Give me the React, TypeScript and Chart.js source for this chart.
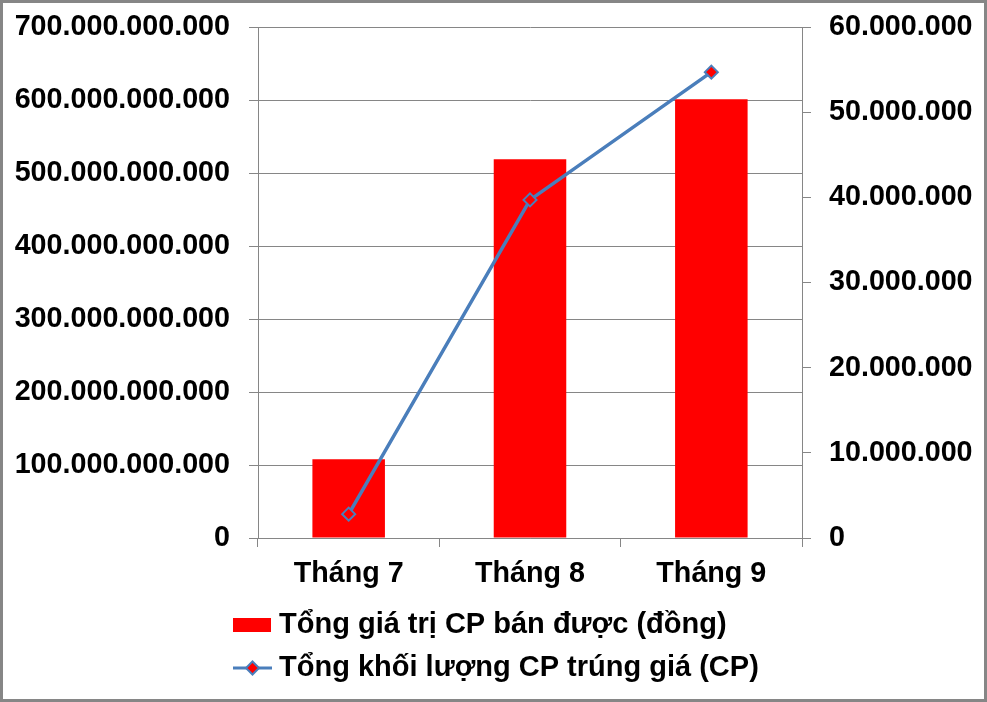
import React, { useEffect, useRef } from "react";
import { Chart, registerables } from "chart.js";

Chart.register(...registerables);

const categories = ["Tháng 7", "Tháng 8", "Tháng 9"];
const valueLabel = "Tổng giá trị CP bán được (đồng)";
const volumeLabel = "Tổng khối lượng CP trúng giá (CP)";
const valueSeries = [108e9, 519e9, 601e9];
const volumeSeries = [2.8e6, 39.7e6, 54.7e6];
const leftMax = 700e9;
const leftStep = 100e9;
const rightMax = 60e6;
const rightStep = 10e6;

const FONT = '"Liberation Sans", Arial, sans-serif';
const GRAY = "#868686";
const BLUE = "#4A7EBB";
const RED = "#FF0000";

function fmt(v: number): string {
  return String(Math.round(v)).replace(/\B(?=(\d{3})+(?!\d))/g, ".");
}

const framePlugin = {
  id: "frame",
  beforeDraw(chart: any) {
    const { ctx, width, height } = chart;
    ctx.save();
    ctx.fillStyle = "#ffffff";
    ctx.fillRect(0, 0, width, height);
    ctx.restore();
  },
  afterDraw(chart: any) {
    const { ctx, width, height } = chart;
    ctx.save();
    ctx.strokeStyle = GRAY;
    ctx.lineWidth = 3;
    ctx.strokeRect(1.5, 1.5, width - 3, height - 3);
    ctx.restore();
  },
};

const legendPlugin = {
  id: "customLegend",
  afterDraw(chart: any) {
    const { ctx } = chart;
    const ds = chart.data.datasets;
    ctx.save();
    ctx.font = `bold 29px ${FONT}`;
    ctx.fillStyle = "#000";
    ctx.textBaseline = "middle";
    ctx.textAlign = "left";
    // row 1: bar
    const y1 = 625;
    ctx.fillStyle = RED;
    ctx.fillRect(233, y1 - 7, 38, 14);
    ctx.fillStyle = "#000";
    ctx.fillText(ds[0].label, 279, y1);
    // row 2: line
    const y2 = 668;
    ctx.strokeStyle = BLUE;
    ctx.lineWidth = 3;
    ctx.beginPath();
    ctx.moveTo(233, y2);
    ctx.lineTo(272, y2);
    ctx.stroke();
    const cx = 252.5;
    const r = 6.5;
    ctx.beginPath();
    ctx.moveTo(cx, y2 - r);
    ctx.lineTo(cx + r, y2);
    ctx.lineTo(cx, y2 + r);
    ctx.lineTo(cx - r, y2);
    ctx.closePath();
    ctx.fillStyle = RED;
    ctx.fill();
    ctx.lineWidth = 2;
    ctx.stroke();
    ctx.fillStyle = "#000";
    ctx.fillText(ds[1].label, 279, y2);
    ctx.restore();
  },
};

export default function App() {
  const ref = useRef<HTMLCanvasElement>(null);

  useEffect(() => {
    document.body.style.margin = "0";
    const canvas = ref.current;
    if (!canvas) return;
    const tickFont = { family: FONT, size: 28.7, weight: "bold" as const };
    const chart = new Chart(canvas, {
      type: "bar",
      data: {
        labels: categories,
        datasets: [
          {
            type: "bar",
            label: valueLabel,
            data: valueSeries,
            backgroundColor: RED,
            borderWidth: 0,
            yAxisID: "y",
            order: 2,
            barPercentage: 0.4,
            categoryPercentage: 1,
          },
          {
            type: "line",
            label: volumeLabel,
            data: volumeSeries,
            borderColor: BLUE,
            borderWidth: 3.5,
            pointStyle: "rectRot",
            pointRadius: 6.5,
            pointBackgroundColor: RED,
            pointBorderColor: BLUE,
            pointBorderWidth: 2,
            yAxisID: "y1",
            order: 1,
            tension: 0,
          },
        ],
      },
      options: {
        responsive: false,
        animation: false,
        devicePixelRatio: 1,
        layout: { padding: { top: 27, left: 0, right: 0, bottom: 0 } },
        plugins: {
          legend: { display: false },
          tooltip: { enabled: false },
        },
        scales: {
          x: {
            offset: true,
            grid: {
              offset: true,
              drawOnChartArea: false,
              drawTicks: true,
              tickLength: 9,
              color: GRAY,
            },
            border: { color: GRAY, width: 1 },
            ticks: { font: tickFont, color: "#000", padding: 10 },
            afterFit(scale: any) {
              scale.height = 164;
              scale.paddingLeft = 0;
              scale.paddingRight = 0;
            },
          },
          y: {
            position: "left",
            min: 0,
            max: leftMax,
            grid: { color: GRAY, tickLength: 9 },
            border: { color: GRAY, width: 1 },
            ticks: {
              stepSize: leftStep,
              font: tickFont,
              color: "#000",
              padding: 19,
              callback: (v: any) => fmt(Number(v)),
            },
            afterFit(scale: any) {
              scale.width = 258;
              scale.paddingTop = 0;
              scale.paddingBottom = 0;
            },
          },
          y1: {
            position: "right",
            min: 0,
            max: rightMax,
            grid: { drawOnChartArea: false, color: GRAY, tickLength: 9 },
            border: { color: GRAY, width: 1 },
            ticks: {
              stepSize: rightStep,
              font: tickFont,
              color: "#000",
              padding: 18,
              callback: (v: any) => fmt(Number(v)),
            },
            afterFit(scale: any) {
              scale.width = 185;
              scale.paddingTop = 0;
              scale.paddingBottom = 0;
            },
          },
        },
      },
      plugins: [framePlugin, legendPlugin],
    });
    return () => chart.destroy();
  }, []);

  return (
    <div style={{ width: 987, height: 702 }}>
      <canvas ref={ref} width={987} height={702} style={{ display: "block" }} />
    </div>
  );
}
